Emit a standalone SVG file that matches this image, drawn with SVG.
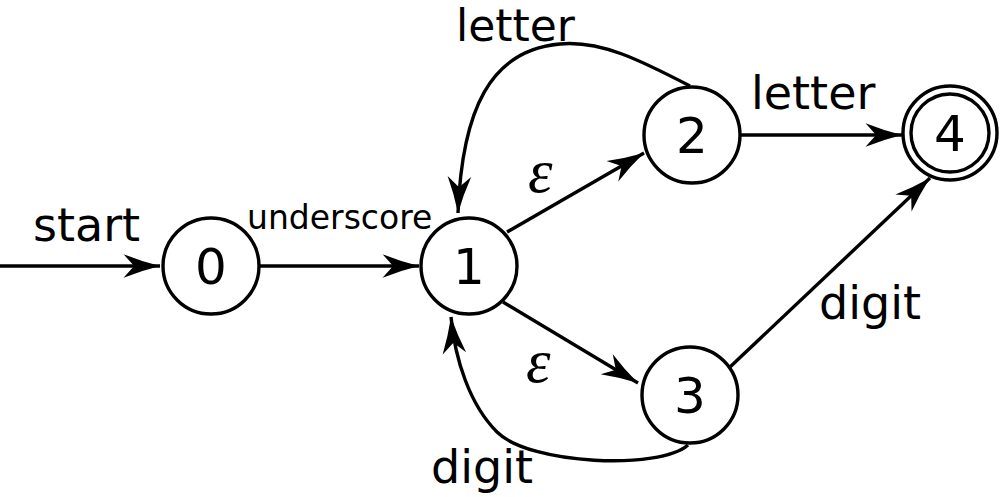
<svg xmlns="http://www.w3.org/2000/svg" width="1003" height="497" viewBox="0 0 1003 497">
<style>
.node{fill:#fff;stroke:#000;stroke-width:3.4}
.edge{fill:none;stroke:#000;stroke-width:3.4;marker-end:url(#arr)}
.lbl{font-family:"DejaVu Sans",Verdana,sans-serif;font-size:46px;fill:#000}
.num{font-family:"DejaVu Sans",Verdana,sans-serif;font-size:50px;fill:#000;text-anchor:middle}
.eps{font-family:"Liberation Serif","Times New Roman",serif;font-style:italic;font-size:62px;fill:#000}
</style>
<defs>
<marker id="arr" markerUnits="userSpaceOnUse" markerWidth="40" markerHeight="30" viewBox="-32 -12 34 24" refX="0" refY="0" orient="auto">
<path d="M0,0 Q-16,-4 -31,-10 L-22,0 L-31,10 Q-16,4 0,0 Z" fill="#000"/>
</marker>
</defs>
<g id="connectors">
<path class="edge" d="M0 266 L160 266"/>
<path class="edge" d="M260 266 L419 266"/>
<path class="edge" d="M507 232 L644 153"/>
<path class="edge" d="M503 302 L638 383"/>
<path class="edge" d="M740 135 L902 135"/>
<path class="edge" d="M730 367 L930 178"/>
<path class="edge" d="M690 86 C640 60 600 40 560 44 C490 50 462 110 458 213"/>
<path class="edge" d="M688 445 C660 470 530 465 497 432 C470 405 455 360 451 317"/>
<text class="lbl" x="456" y="41" style="font-size:44px">letter</text>
<text class="lbl" x="33" y="241">start</text>
<text class="lbl" x="247" y="229" style="font-size:33px">underscore</text>
<text class="lbl" x="751" y="109">letter</text>
<text class="lbl" x="819" y="319">digit</text>
<text class="lbl" x="431" y="483">digit</text>
<text class="eps" x="528" y="192">ε</text>
<text class="eps" x="526" y="382">ε</text>
</g>
<g id="node0"><circle class="node" cx="211" cy="266" r="48"/><text class="num" x="211" y="284">0</text></g>
<g id="node1"><circle class="node" cx="469" cy="266" r="48"/><text class="num" x="469" y="284">1</text></g>
<g id="node2"><circle class="node" cx="692" cy="135" r="48"/><text class="num" x="692" y="153">2</text></g>
<g id="node3"><circle class="node" cx="690" cy="395" r="48"/><text class="num" x="690" y="413">3</text></g>
<g id="node4"><circle class="node" cx="950" cy="133" r="47"/><circle class="node" cx="950" cy="133" r="39"/><text class="num" x="950" y="151">4</text></g>
</svg>
